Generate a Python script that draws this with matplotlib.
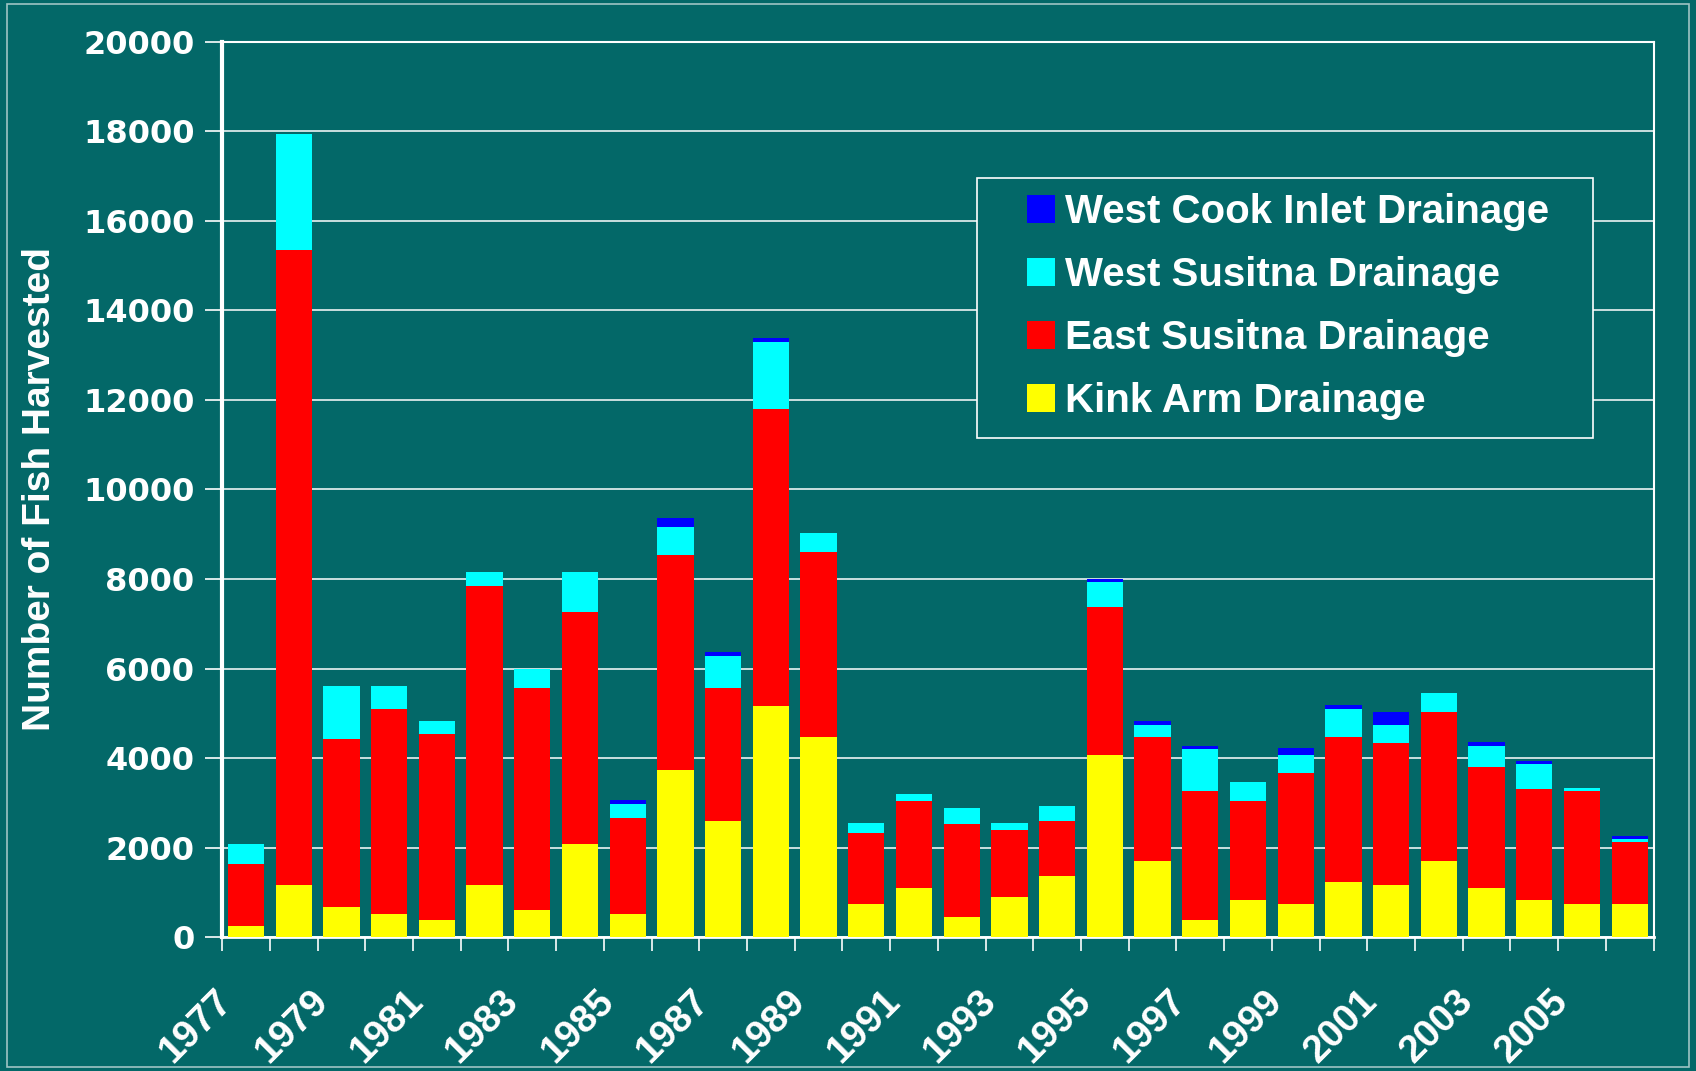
import numpy as np
import matplotlib
matplotlib.use("Agg")
import matplotlib.pyplot as plt
from matplotlib.patches import Rectangle
from matplotlib.transforms import ScaledTranslation

years = list(range(1977, 2007))

kink_arm = [250, 1160, 680, 520, 380, 1160, 600, 2070, 520, 3730,
            2590, 5170, 4470, 730, 1090, 450, 890, 1370, 4060, 1710,
            390, 820, 730, 1230, 1160, 1710, 1090, 820, 750, 750]
east_susitna = [1380, 14190, 3740, 4570, 4150, 6690, 4970, 5190, 2130, 4810,
                2980, 6630, 4130, 1600, 1960, 2070, 1510, 1230, 3320, 2760,
                2880, 2230, 2930, 3240, 3170, 3320, 2700, 2490, 2520, 1370]
west_susitna = [440, 2590, 1180, 510, 290, 300, 430, 890, 330, 620,
                700, 1490, 420, 220, 150, 360, 150, 340, 550, 270,
                930, 420, 400, 630, 410, 430, 490, 550, 70, 70]
west_cook = [0, 0, 0, 0, 0, 0, 0, 0, 80, 210,
             100, 100, 0, 0, 0, 0, 0, 0, 70, 90,
             80, 0, 160, 90, 290, 0, 80, 80, 0, 70]

series = [
    ("Kink Arm Drainage", kink_arm, "#ffff00"),
    ("East Susitna Drainage", east_susitna, "#ff0000"),
    ("West Susitna Drainage", west_susitna, "#00ffff"),
    ("West Cook Inlet Drainage", west_cook, "#0000ff"),
]

bg = "#036868"
narrow = ["Liberation Sans Narrow", "Liberation Sans", "DejaVu Sans"]

fig = plt.figure(figsize=(16.96, 10.71), dpi=100, facecolor=bg)
ax = fig.add_axes([0.131, 0.125, 0.844, 0.836])
ax.set_facecolor(bg)

x = np.arange(len(years))
bottom = np.zeros(len(years))
handles = {}
for name, vals, col in series:
    vals = np.array(vals, dtype=float)
    handles[name] = ax.bar(x, vals, 0.76, bottom=bottom, color=col,
                           edgecolor="none", zorder=3, label=name)
    bottom += vals

ax.set_xlim(-0.5, len(years) - 0.5)
ax.set_ylim(0, 20000)
ax.set_yticks(range(0, 20001, 2000))
ax.set_yticklabels([str(v) for v in range(0, 20001, 2000)],
                   fontsize=23, fontweight="bold", color="white",
                   family="DejaVu Sans")
ax.grid(axis="y", color="white", linewidth=1.1, zorder=1)

# ticks between categories, labels on every other year
ax.set_xticks(np.arange(-0.5, len(years), 1.0))
ax.set_xticklabels([])
ax.set_xticks(x[::2], minor=True)
ax.set_xticklabels([str(y) for y in years[::2]], minor=True, rotation=45,
                   ha="right", va="top", rotation_mode="anchor",
                   fontsize=28, fontweight="bold", color="white",
                   family="Liberation Sans")
ax.tick_params(axis="x", which="minor", length=0, pad=33)
ax.tick_params(axis="x", which="major", length=10, color="white", width=1.2)
ax.tick_params(axis="y", length=12, color="white", width=1.2, pad=8)
shift = ScaledTranslation(-0.32, 0, fig.dpi_scale_trans)
for lab in ax.get_xticklabels(minor=True):
    lab.set_transform(lab.get_transform() + shift)

for side in ["left", "right", "top", "bottom"]:
    ax.spines[side].set_color("white")
    ax.spines[side].set_linewidth(1.5)
ax.spines["left"].set_linewidth(3)
ax.spines["bottom"].set_linewidth(2)

ax.set_ylabel("Number of Fish Harvested", fontsize=28, fontweight="bold",
              color="white", family=narrow, labelpad=18)

# legend box drawn separately so its padding matches the original
ax.add_patch(Rectangle((0.527, 0.5575), 0.4305, 0.29, transform=ax.transAxes,
                       facecolor=bg, edgecolor="white", linewidth=1.2,
                       zorder=4))
order = ["West Cook Inlet Drainage", "West Susitna Drainage",
         "East Susitna Drainage", "Kink Arm Drainage"]
leg = ax.legend([handles[n] for n in order], order, loc="upper left",
                bbox_to_anchor=(0.562, 0.831), frameon=False,
                handlelength=0.7, handleheight=0.7, handletextpad=0.25,
                labelspacing=0.62, borderpad=0, borderaxespad=0,
                prop={"family": narrow, "weight": "bold", "size": 29})
leg.set_zorder(5)
for t in leg.get_texts():
    t.set_color("white")

fig.patches.append(Rectangle((0.004, 0.004), 0.992, 0.992,
                             transform=fig.transFigure, fill=False,
                             edgecolor="#9fc4c4", linewidth=1.2))

fig.savefig("out.png", dpi=100, facecolor=bg)
